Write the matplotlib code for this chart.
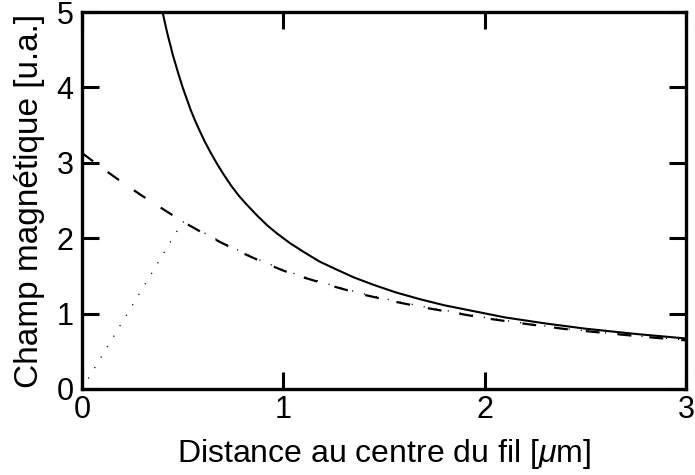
import matplotlib
matplotlib.use("Agg")
import matplotlib.pyplot as plt

plt.rcParams['font.family'] = ['Liberation Sans', 'DejaVu Sans']
plt.rcParams['mathtext.fontset'] = 'custom'
plt.rcParams['mathtext.rm'] = 'Liberation Sans'
plt.rcParams['mathtext.it'] = 'Liberation Sans:italic'
plt.rcParams['lines.scale_dashes'] = False

# Solid curve (field of a line current)
solid_x = [0.40, 0.41, 0.42, 0.43, 0.44, 0.45, 0.46, 0.48, 0.50, 0.52, 0.54,
           0.56, 0.58, 0.61, 0.64, 0.67, 0.70, 0.74, 0.78, 0.82, 0.87, 0.92,
           0.97, 1.03, 1.10, 1.18, 1.26, 1.35, 1.45, 1.56, 1.68, 1.80, 1.95,
           2.10, 2.30, 2.50, 2.75, 3.00]
solid_y = [5.00, 4.88, 4.76, 4.65, 4.55, 4.44, 4.35, 4.17, 4.00, 3.85, 3.70,
           3.57, 3.45, 3.28, 3.13, 2.99, 2.86, 2.70, 2.56, 2.44, 2.30, 2.17,
           2.06, 1.94, 1.82, 1.69, 1.59, 1.48, 1.38, 1.28, 1.19, 1.11, 1.03,
           0.95, 0.87, 0.80, 0.73, 0.67]

# Dashed curve
dash_x = [0, 0.1, 0.2, 0.3, 0.4, 0.5, 0.6, 0.7, 0.8, 0.9, 1.0, 1.1, 1.25,
          1.4, 1.55, 1.7, 1.85, 2.0, 2.2, 2.4, 2.6, 2.8, 3.0]
dash_y = [3.13, 2.93, 2.74, 2.56, 2.39, 2.22, 2.07, 1.93, 1.80, 1.68, 1.57,
          1.48, 1.36, 1.25, 1.16, 1.08, 1.01, 0.94, 0.865, 0.795, 0.742, 0.69, 0.645]

# Dotted curve (linear inside the wire, then close to the dashed one)
dot_x = [0, 0.5, 0.6, 0.7, 0.8, 0.9, 1.0, 1.1, 1.25, 1.4, 1.55, 1.7, 1.85,
         2.0, 2.2, 2.4, 2.6, 2.8, 3.0]
dot_y = [0, 2.22, 2.08, 1.94, 1.81, 1.69, 1.58, 1.49, 1.37, 1.26, 1.17, 1.09,
         1.02, 0.95, 0.87, 0.80, 0.745, 0.695, 0.65]

x_ticks = [0, 1, 2, 3]
y_ticks = [0, 1, 2, 3, 4, 5]

fig = plt.figure(figsize=(6.95, 4.75), dpi=100)
ax = fig.add_axes([82/695, 1-389/475, (686-82)/695, (389-12)/475])

ax.plot(solid_x, solid_y, color='black', lw=1.5, solid_capstyle='butt',
        solid_joinstyle='round')
ax.plot(dash_x, dash_y, color='black', lw=1.6, dashes=(10, 13), dash_capstyle='butt')
ax.plot(dot_x, dot_y, color='black', lw=1.0, dashes=(0.8, 8))

ax.set_xlim(0, 3)
ax.set_ylim(0, 5)
ax.set_xticks(x_ticks)
ax.set_yticks(y_ticks)
ax.tick_params(direction='in', length=12, width=2.2, labelsize=22,
               top=True, right=True, pad=4)
ax.tick_params(axis='y', pad=6)
for s in ax.spines.values():
    s.set_linewidth(2.4)

ax.set_xlabel(r'Distance au centre du fil [$\mu$m]', fontsize=23, labelpad=9)
ax.set_ylabel('Champ magnétique [u.a.]', fontsize=24, labelpad=8)

fig.savefig('out.png', dpi=100)
